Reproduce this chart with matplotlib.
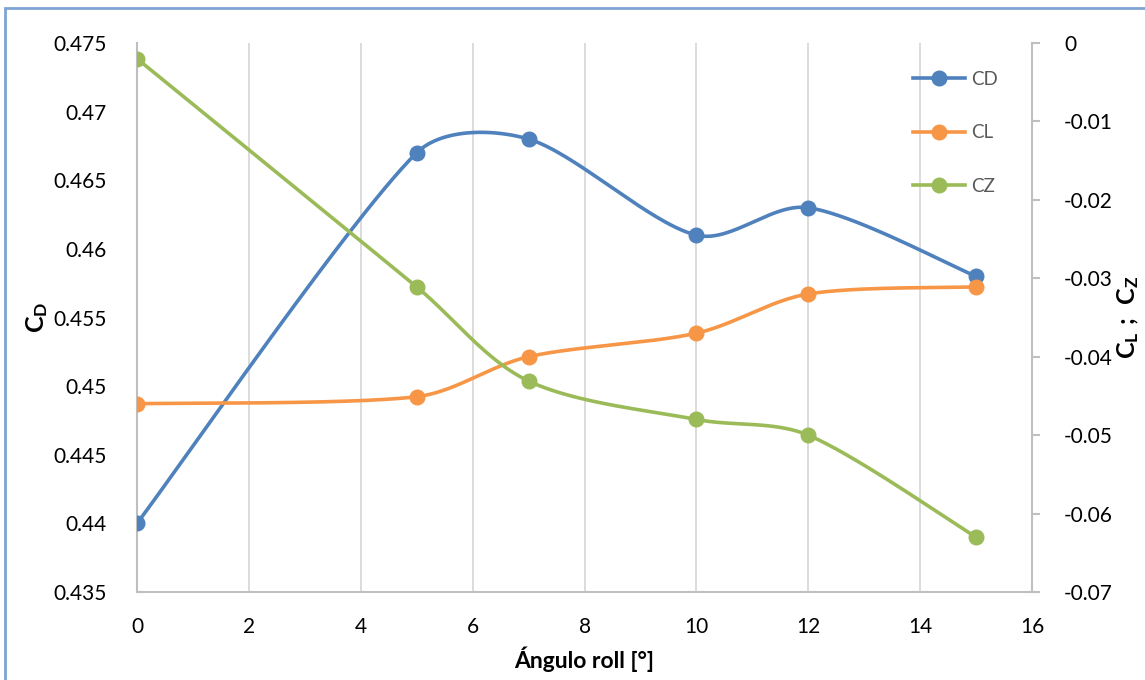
import numpy as np
import matplotlib.pyplot as plt
from matplotlib.patches import Rectangle

roll = [0, 5, 7, 10, 12, 15]
cd = [0.440, 0.467, 0.468, 0.461, 0.463, 0.458]
cl = [-0.046, -0.0451, -0.040, -0.037, -0.032, -0.0311]
cz = [-0.002, -0.0311, -0.0431, -0.048, -0.050, -0.063]

BLUE = '#4F81BD'
ORANGE = '#F79646'
GREEN = '#9BBB59'
GREY = '#BFBFBF'

plt.rcParams['font.family'] = ['Lato', 'DejaVu Sans']
plt.rcParams['mathtext.fontset'] = 'custom'
plt.rcParams['mathtext.bf'] = 'Lato:bold'
plt.rcParams['mathtext.rm'] = 'Lato'


def excel_smooth(ax, xs, ys, n=60, tension=1.0 / 6):
    # bezier smoothing done in pixel space, roughly the way Excel does it
    pts = ax.transData.transform(np.column_stack([xs, ys]))
    p = np.vstack([pts[0], pts, pts[-1]])
    t = np.linspace(0, 1, n)[1:, None]
    out = [pts[:1]]
    for i in range(1, len(p) - 2):
        p0, p1, p2, p3 = p[i - 1], p[i], p[i + 1], p[i + 2]
        d01 = np.hypot(*(p1 - p0))
        d12 = np.hypot(*(p2 - p1))
        d23 = np.hypot(*(p3 - p2))
        f1 = tension * min(1.0, 2 * d12 / (d01 + d12))
        f2 = tension * min(1.0, 2 * d12 / (d12 + d23))
        c1 = p1 + f1 * (p2 - p0)
        c2 = p2 - f2 * (p3 - p1)
        seg = ((1 - t) ** 3) * p1 + 3 * ((1 - t) ** 2) * t * c1 + 3 * (1 - t) * t ** 2 * c2 + t ** 3 * p2
        out.append(seg)
    curve = ax.transData.inverted().transform(np.vstack(out))
    return curve[:, 0], curve[:, 1]


fig = plt.figure(figsize=(11.45, 6.8), dpi=100)
ax = fig.add_axes([137 / 1145, 88 / 680, 895 / 1145, 549 / 680])
ax2 = ax.twinx()

ax.set_xlim(0, 16)
ax.set_ylim(0.435, 0.475)
ax2.set_ylim(-0.07, 0)
ax.set_xticks(range(0, 17, 2))
ax.set_yticks(np.arange(0.435, 0.4751, 0.005))
ax.set_yticklabels(['0.435', '0.44', '0.445', '0.45', '0.455', '0.46', '0.465', '0.47', '0.475'])
ax2.set_yticks(np.arange(-0.07, 0.0001, 0.01))
ax2.set_yticklabels(['-0.07', '-0.06', '-0.05', '-0.04', '-0.03', '-0.02', '-0.01', '0'])

ax.grid(axis='x', color='#D9D9D9', lw=1.3)
ax.set_axisbelow(True)

for a in (ax, ax2):
    a.spines['top'].set_visible(False)
    for s in ('left', 'right', 'bottom'):
        a.spines[s].set_color(GREY)
        a.spines[s].set_linewidth(1.5)
ax.spines['right'].set_visible(False)
ax2.spines['left'].set_visible(False)
ax2.spines['bottom'].set_visible(False)

ax.tick_params(axis='x', length=0, pad=18, labelsize=15)
ax.tick_params(axis='y', length=0, pad=22, labelsize=15)
ax2.tick_params(axis='y', length=6, width=1.5, color=GREY, direction='out', pad=17, labelsize=15)

lines = []
for a, vals, col, lab in [(ax, cd, BLUE, 'CD'), (ax2, cl, ORANGE, 'CL'), (ax2, cz, GREEN, 'CZ')]:
    sx, sy = excel_smooth(a, roll, vals)
    a.plot(sx, sy, color=col, lw=2.6, solid_capstyle='round', zorder=3)
    a.plot(roll, vals, 'o', color=col, ms=10.5, zorder=4)
    h, = a.plot([], [], '-o', color=col, lw=2.6, ms=10.5, label=lab)
    lines.append(h)

leg = fig.legend(handles=lines, loc='upper left', bbox_to_anchor=(913 / 1145, 1 - 71 / 680),
                 frameon=False, fontsize=13.5, handlelength=2.8, handletextpad=0.3,
                 labelspacing=1.94, borderpad=0, borderaxespad=0)
for txt in leg.get_texts():
    txt.set_color('#595959')

ax.set_xlabel('Ángulo roll [°]', fontsize=16.5, fontweight='bold')
ax.xaxis.set_label_coords(0.5, -(647 - 592) / 549)
ax.set_ylabel(r'$\mathbf{C_D}$', fontsize=18)
ax.yaxis.set_label_coords(-(137 - 50) / 895, 0.5)
ax2.set_ylabel(r'$\mathbf{C_L\ ;\ C_Z}$', fontsize=18)
ax2.yaxis.set_label_coords(1 + (1115 - 1032) / 895, 0.5)

fig.patches.append(Rectangle((5 / 1145, -0.1), 1.2, 1 - 8 / 680 + 0.1, transform=fig.transFigure,
                             fill=False, edgecolor='#7FA3D4', lw=2, zorder=10))

fig.savefig('out.png', dpi=100)
